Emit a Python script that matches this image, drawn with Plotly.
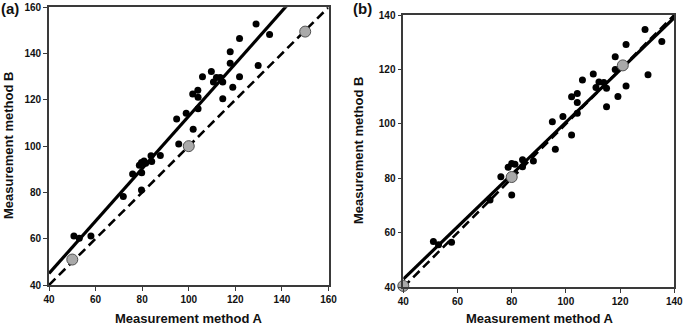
import numpy as np
import plotly.graph_objects as go

W, H = 685, 327

# ---------------- data: panel (a) ----------------
a_x = [50.7, 53.0, 58.0, 71.9, 75.9, 79.7, 78.8, 79.7, 79.8, 80.8, 81.5, 83.8, 84.1, 87.8,
       95.7, 94.8, 98.9, 101.7, 101.9, 103.9, 104.0, 104.0, 105.9, 109.7, 110.6, 111.9,
       113.5, 114.6, 114.6, 117.8, 117.8, 118.9, 121.8, 121.8, 128.9, 129.8, 134.7]
a_y = [61.2, 60.2, 61.2, 78.2, 88.0, 81.1, 91.7, 92.9, 88.5, 93.6, 92.6, 95.8, 93.4, 96.0,
       100.9, 111.7, 114.2, 122.5, 107.3, 124.2, 121.1, 116.2, 130.0, 132.3, 127.7, 129.7,
       129.7, 127.7, 120.5, 140.8, 135.8, 125.4, 146.5, 130.0, 152.8, 134.9, 148.2]
a_ref_x = [50, 100, 150]
a_ref_y = [51, 100, 149.5]
a_slope, a_intercept = 1.134, -0.4

# ---------------- data: panel (b) ----------------
b_x = [51.1, 53.0, 57.8, 72.0, 76.0, 78.7, 80.0, 80.0, 81.2, 84.0, 84.0, 88.0, 95.0, 96.1,
       98.9, 102.1, 102.1, 104.2, 104.2, 104.2, 106.1, 110.1, 111.1, 112.2, 114.0, 115.0,
       115.0, 118.2, 118.2, 119.2, 122.2, 122.2, 129.2, 130.3, 135.4]
b_y = [56.8, 55.6, 56.5, 72.1, 80.6, 84.1, 85.5, 73.9, 85.2, 86.8, 84.3, 86.4, 100.8, 90.7,
       102.7, 110.0, 95.9, 111.2, 107.9, 103.9, 116.1, 118.3, 113.4, 115.4, 115.2, 113.1,
       106.3, 124.7, 120.0, 110.1, 129.2, 113.9, 134.7, 118.1, 130.3]
b_ref_x = [40, 80, 121]
b_ref_y = [40.5, 80.5, 121.5]
b_slope, b_intercept = 0.96, 4.6

a_range = [40, 160]
b_range = [40, 140]
a_ticks = [40, 60, 80, 100, 120, 140, 160]
b_ticks = [40, 60, 80, 100, 120, 140]

x_title = "Measurement method A"
y_title = "Measurement method B"

FONT = "Liberation Sans, Arial, sans-serif"
AXC = "#3a3a3a"

fig = go.Figure()


def add_panel(xs, ys, rx, ry, slope, intercept, rng, xa, ya):
    line_x = np.array(rng, dtype=float)
    fig.add_trace(go.Scatter(x=line_x, y=line_x, mode="lines",
                             line=dict(color="black", width=2.6, dash="9px,5px"),
                             xaxis=xa, yaxis=ya, showlegend=False, hoverinfo="skip"))
    fig.add_trace(go.Scatter(x=line_x, y=slope * line_x + intercept, mode="lines",
                             line=dict(color="black", width=3.2),
                             xaxis=xa, yaxis=ya, showlegend=False, hoverinfo="skip"))
    fig.add_trace(go.Scatter(x=xs, y=ys, mode="markers",
                             marker=dict(color="black", size=7, line=dict(width=0)),
                             xaxis=xa, yaxis=ya, showlegend=False, cliponaxis=False))
    fig.add_trace(go.Scatter(x=rx, y=ry, mode="markers",
                             marker=dict(color="#a9a9a9", size=11,
                                         line=dict(color="#505050", width=1)),
                             xaxis=xa, yaxis=ya, showlegend=False, cliponaxis=False))


add_panel(a_x, a_y, a_ref_x, a_ref_y, a_slope, a_intercept, a_range, "x", "y")
add_panel(b_x, b_y, b_ref_x, b_ref_y, b_slope, b_intercept, b_range, "x2", "y2")


def ax(rng, ticks, domain, anchor):
    return dict(range=rng, tickvals=ticks, domain=domain, anchor=anchor,
                automargin=False,
                showgrid=False, zeroline=False, showline=True, mirror=True,
                linecolor=AXC, linewidth=1.6, ticks="outside", ticklen=4,
                tickwidth=1.4, tickcolor=AXC,
                tickfont=dict(family=FONT, size=10, color="#111", weight="bold"),
                fixedrange=True)


# pixel -> paper helpers
px = lambda p: p / W
py = lambda p: 1 - p / H

fig.update_layout(
    width=W, height=H,
    margin=dict(l=0, r=0, t=0, b=0, autoexpand=False),
    paper_bgcolor="white", plot_bgcolor="white",
    font=dict(family=FONT, color="#111"),
    xaxis=ax(a_range, a_ticks, [px(49), px(328.5)], "y"),
    yaxis=ax(a_range, a_ticks, [py(285), py(7.3)], "x"),
    xaxis2=ax(b_range, b_ticks, [px(403.3), px(674.3)], "y2"),
    yaxis2=ax(b_range, b_ticks, [py(287.3), py(15)], "x2"),
)

ann = []
def text(s, x, y, size, angle=0, xanchor="center", yanchor="middle"):
    ann.append(dict(text="<b>%s</b>" % s, x=px(x), y=py(y), xref="paper", yref="paper",
                    showarrow=False, textangle=angle, xanchor=xanchor, yanchor=yanchor,
                    font=dict(family=FONT, size=size, color="#111")))

text(x_title, 188.5, 318.5, 13)
text(x_title, 539, 318.5, 13)
text(y_title, 8, 146, 13, angle=-90)
text(y_title, 358, 151, 13, angle=-90)
text("(a)", -1, 8, 15, xanchor="left")
text("(b)", 351, 8.5, 15, xanchor="left")
fig.update_layout(annotations=ann)

fig.write_html("out.html", config={"displayModeBar": False},
               post_script="document.body.style.margin='0';document.body.style.overflow='hidden';")
